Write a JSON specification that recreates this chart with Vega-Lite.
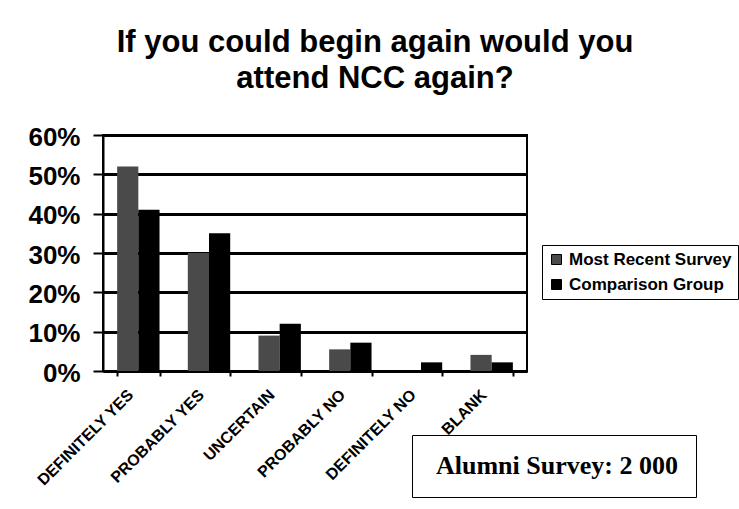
{
  "$schema": "https://vega.github.io/schema/vega-lite/v6.json",
  "autosize": {"type": "none"},
  "width": 424,
  "height": 236,
  "padding": {"left": 103, "top": 135, "right": 212, "bottom": 138},
  "background": "white",
  "title": {
    "text": ["If you could begin again would you", "attend NCC again?"],
    "font": "Liberation Sans",
    "fontSize": 31,
    "fontWeight": "bold",
    "color": "black",
    "anchor": "middle",
    "dx": 60,
    "offset": 29,
    "lineHeight": 36
  },
  "config": {
    "view": {"fill": "#d6d6d6", "stroke": "black", "strokeWidth": 2},
    "font": "Liberation Sans"
  },
  "datasets": {
    "bars": [
      {"answer": "DEFINITELY YES", "group": "Most Recent Survey", "share": 0.52},
      {"answer": "DEFINITELY YES", "group": "Comparison Group", "share": 0.41},
      {"answer": "PROBABLY YES", "group": "Most Recent Survey", "share": 0.30},
      {"answer": "PROBABLY YES", "group": "Comparison Group", "share": 0.35},
      {"answer": "UNCERTAIN", "group": "Most Recent Survey", "share": 0.09},
      {"answer": "UNCERTAIN", "group": "Comparison Group", "share": 0.12},
      {"answer": "PROBABLY NO", "group": "Most Recent Survey", "share": 0.055},
      {"answer": "PROBABLY NO", "group": "Comparison Group", "share": 0.072},
      {"answer": "DEFINITELY NO", "group": "Most Recent Survey", "share": 0.0},
      {"answer": "DEFINITELY NO", "group": "Comparison Group", "share": 0.022},
      {"answer": "BLANK", "group": "Most Recent Survey", "share": 0.041},
      {"answer": "BLANK", "group": "Comparison Group", "share": 0.022}
    ],
    "note": [{"note": "Alumni Survey: 2 000"}]
  },
  "layer": [
    {
      "data": {"name": "bars"},
      "mark": {"type": "bar"},
      "encoding": {
        "x": {
          "field": "answer",
          "type": "nominal",
          "sort": null,
          "scale": {"paddingInner": 0.4, "paddingOuter": 0.2},
          "axis": {
            "title": null,
            "labelAngle": -45,
            "labelAlign": "right",
            "labelBaseline": "middle",
            "labelFontSize": 16,
            "labelFontWeight": "bold",
            "labelColor": "black",
            "labelPadding": 16,
            "labelOffset": -8,
            "tickBand": "extent",
            "tickSize": 5,
            "tickColor": "black",
            "tickWidth": 2,
            "domainColor": "black",
            "domainWidth": 3,
            "grid": false
          }
        },
        "xOffset": {"field": "group", "type": "nominal", "sort": ["Most Recent Survey", "Comparison Group"]},
        "y": {
          "field": "share",
          "type": "quantitative",
          "scale": {"domain": [0, 0.6], "nice": false},
          "axis": {
            "title": null,
            "format": ".0%",
            "values": [0, 0.1, 0.2, 0.3, 0.4, 0.5, 0.6],
            "labelFontSize": 26,
            "labelFontWeight": "bold",
            "labelColor": "black",
            "labelPadding": 13,
            "labelOffset": 2,
            "tickSize": 10,
            "tickColor": "black",
            "tickWidth": 2,
            "domainColor": "black",
            "domainWidth": 2,
            "grid": true,
            "gridColor": "black",
            "gridWidth": 3,
            "gridOpacity": 1
          }
        },
        "color": {
          "field": "group",
          "type": "nominal",
          "sort": ["Most Recent Survey", "Comparison Group"],
          "scale": {"domain": ["Most Recent Survey", "Comparison Group"], "range": ["#4a4a4a", "#000000"]},
          "legend": {
            "title": null,
            "orient": "none",
            "legendX": 439,
            "legendY": 110,
            "strokeColor": "black",
            "fillColor": "white",
            "padding": 6,
            "symbolType": "square",
            "symbolSize": 100,
            "symbolStrokeColor": "black",
            "symbolStrokeWidth": 1,
            "labelFontSize": 17,
            "labelFontWeight": "bold",
            "labelFont": "Liberation Sans",
            "labelColor": "black",
            "labelOffset": 4,
            "labelLimit": 300,
            "rowPadding": 7
          }
        }
      }
    },
    {
      "data": {"name": "note"},
      "mark": {"type": "point", "opacity": 0},
      "encoding": {
        "shape": {
          "field": "note",
          "type": "nominal",
          "legend": {
            "title": null,
            "orient": "none",
            "legendX": 309,
            "legendY": 300,
            "strokeColor": "black",
            "fillColor": "white",
            "padding": 18,
            "symbolSize": 0,
            "symbolOpacity": 0,
            "labelOffset": -20,
            "labelFont": "Liberation Serif",
            "labelFontSize": 26,
            "labelFontWeight": "bold",
            "labelColor": "black",
            "labelLimit": 400
          }
        }
      }
    }
  ]
}
